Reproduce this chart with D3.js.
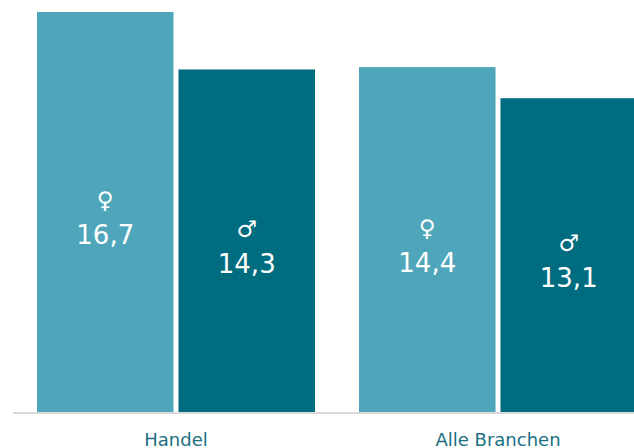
<!DOCTYPE html>
<html><head><meta charset="utf-8">
<script src="https://cdn.jsdelivr.net/npm/d3@7"></script>
<style>body{margin:0;background:#fff;overflow:hidden}svg{display:block}</style>
</head><body><svg id="c" width="634" height="448"></svg>
<script>
const categories = ["Handel", "Alle Branchen"];
const seriesKeys = ["f", "m"];
const seriesSymbols = ["\u2640", "\u2642"];
const femaleValues = [16.7, 14.4];
const maleValues = [14.3, 13.1];
const yMax = 16.7;

const colors = {f: "#4fa6ba", m: "#006c80"};
const data = categories.map((c, i) => ({cat: c, vals: [
  {key: "f", sym: seriesSymbols[0], v: femaleValues[i]},
  {key: "m", sym: seriesSymbols[1], v: maleValues[i]}]}));

const svg = d3.select("#c");
const x0 = d3.scaleBand().domain(categories).range([15, 659]).paddingInner(0.1366).paddingOuter(0.0683);
const x1 = d3.scaleBand().domain(seriesKeys).range([0, x0.bandwidth()]).paddingInner(0.035);
const y = d3.scaleLinear().domain([0, yMax]).range([412, 12]);
const fmt = v => d3.format(".1f")(v).replace(".", ",");

// axis line
svg.append("line").attr("x1", 13).attr("x2", 634).attr("y1", 413).attr("y2", 413)
  .attr("stroke", "#d9d9d9").attr("stroke-width", 2);

const g = svg.selectAll("g.grp").data(data).join("g").attr("class","grp")
  .attr("transform", d => `translate(${x0(d.cat)},0)`);
const b = g.selectAll("g.bar").data(d => d.vals).join("g").attr("class","bar");
b.append("rect").attr("x", d => x1(d.key)).attr("width", x1.bandwidth())
  .attr("y", d => y(d.v)).attr("height", d => y(0) - y(d.v)).attr("fill", d => colors[d.key]);
b.append("text").attr("x", d => x1(d.key) + x1.bandwidth()/2)
  .attr("y", d => (y(d.v) + y(0))/2 - 12).attr("text-anchor","middle").attr("dominant-baseline","central")
  .attr("fill","#fff").style("font-family","DejaVu Sans").style("font-size","23px").text(d => d.sym);
b.append("text").attr("x", d => x1(d.key) + x1.bandwidth()/2)
  .attr("y", d => (y(d.v) + y(0))/2 + 23).attr("text-anchor","middle").attr("dominant-baseline","central")
  .attr("fill","#fff").style("font-family","DejaVu Sans").style("font-size","26px").text(d => fmt(d.v));

svg.selectAll("text.cat").data(categories).join("text").attr("class","cat")
  .attr("x", d => x0(d) + x0.bandwidth()/2).attr("y", 439).attr("text-anchor","middle")
  .attr("dominant-baseline","central").attr("fill","#1b6f82")
  .style("font-family","DejaVu Sans").style("font-size","18px").text(d => d);
</script></body></html>
